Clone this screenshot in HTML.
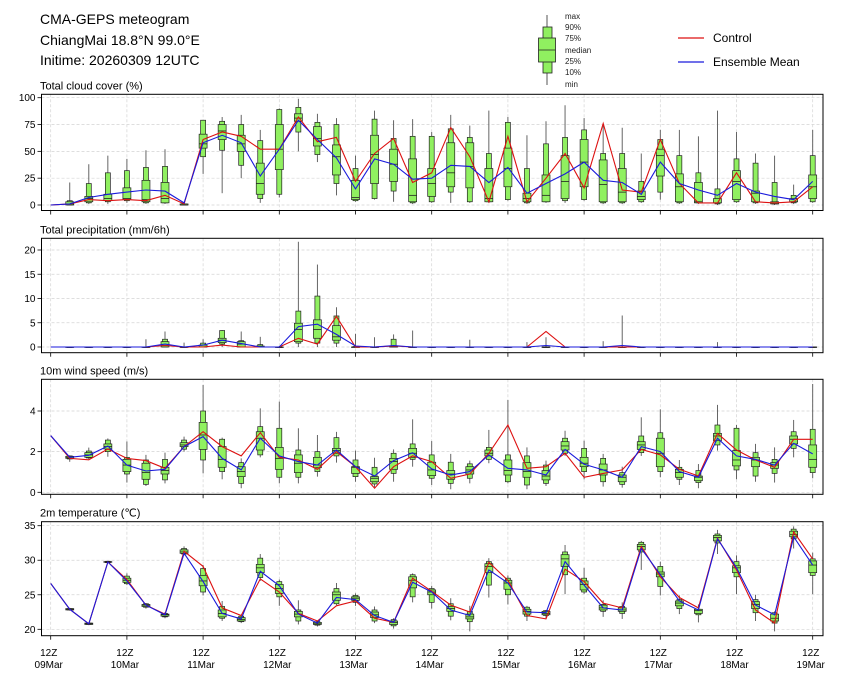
<!DOCTYPE html>
<html><head><meta charset="utf-8"><style>
html,body{margin:0;padding:0;background:#fff;}
svg{display:block;font-family:"Liberation Sans","DejaVu Sans",sans-serif;}
</style></head><body>
<svg id="chart" width="841" height="680" viewBox="0 0 841 680">
<text x="40" y="24" font-size="14">CMA-GEPS meteogram</text>
<text x="40" y="45" font-size="14">ChiangMai 18.8°N 99.0°E</text>
<text x="40" y="65" font-size="14">Initime: 20260309 12UTC</text>
<g>
<line x1="547" y1="15" x2="547" y2="85" stroke="#555" stroke-width="1"/>
<rect x="543" y="27" width="9" height="46" fill="#90f060" stroke="#222" stroke-width="0.8"/>
<rect x="538.5" y="38" width="17" height="24" fill="#90f060" stroke="#222" stroke-width="0.8"/>
<line x1="538.5" y1="50" x2="555.5" y2="50" stroke="#222" stroke-width="0.8"/>
<g font-size="8" fill="#222">
<text x="565" y="19">max</text><text x="565" y="30">90%</text><text x="565" y="41">75%</text>
<text x="565" y="53">median</text><text x="565" y="64">25%</text><text x="565" y="75">10%</text><text x="565" y="87">min</text>
</g></g>
<g>
<line x1="678" y1="38" x2="704" y2="38" stroke="#dd1111" stroke-width="1.2"/>
<text x="713" y="42" font-size="12">Control</text>
<line x1="678" y1="62" x2="704" y2="62" stroke="#1a1adc" stroke-width="1.2"/>
<text x="713" y="66" font-size="12">Ensemble Mean</text>
</g>
</svg>
<script>
const dayLabels=["09Mar","10Mar","11Mar","12Mar","13Mar","14Mar","15Mar","16Mar","17Mar","18Mar","19Mar"];
const cloudTicks=[0,25,50,75,100];
const precipTicks=[0,5,10,15,20];
const windTicks=[0,2,4];
const tempTicks=[20,25,30,35];

const cloudMax=[21,38,46,43,51,52,2,79,82,84,70,90,99,85,81,46,88,79,80,68,84,74,88,82,65,78,93,81,74,72,48,70,70,64,88,68,48,46,19,70];
const cloudP90=[4,20,30,32,35,36,1,79,78,75,60,89,91,77,75,34,80,62,64,64,71,63,48,77,34,57,63,70,48,48,22,61,46,30,15,43,39,21,9,46];
const cloudP75=[3,8,10,16,23,21,1,66,75,65,39,75,85,73,56,23,65,52,43,34,58,58,34,53,11,28,46,61,42,34,13,52,29,21,6,32,13,3,6,28];
const cloudMed=[1,6,6,6,5,6,0,57,69,57,20,52,81,62,45,7,47,38,9,20,30,36,6,34,6,9,22,40,19,12,8,46,17,3,2,22,11,2,3,17];
const cloudP25=[0,3,4,5,3,2,0,53,61,50,10,33,78,55,28,5,20,22,3,8,17,16,3,17,3,3,6,17,3,3,5,27,3,2,2,5,3,1,3,6];
const cloudP10=[0,2,3,4,2,2,0,45,51,37,6,10,68,47,20,4,6,13,2,3,12,3,3,5,2,3,4,5,2,2,3,12,2,2,1,3,2,1,2,3];
const cloudMin=[0,1,1,2,1,1,0,29,11,25,2,7,50,40,9,3,5,3,1,2,2,2,2,4,1,2,2,4,1,1,2,5,1,1,0,2,1,0,1,2];
const cloudCtrl=[0,1,5,4,5,4,9,1,61,68,64,52,52,82,59,63,22,48,62,21,30,72,45,3,64,3,25,48,16,76,14,12,61,20,2,2,30,3,2,3,17];
const cloudMean=[0,1,7,10,12,14,13,2,58,65,58,27,52,79,61,44,15,43,38,24,25,37,36,21,35,11,20,29,40,23,21,10,40,20,14,9,20,12,8,5,22];

const precipMax=[0,0,0,0,1.6,3.2,0.9,1.6,3.5,3.2,2.1,0.2,21.7,17,8.2,2.7,2.0,2.6,3.4,0,0,1.5,0,0,1.0,2.0,0,0,1.2,6.5,0,0,0,0,1.0,0,0,0,0,0];
const precipP90=[0,0,0,0,0,1.6,0,0.8,3.4,1.3,0.5,0,7.4,10.5,6.4,0.1,0,1.6,0,0,0,0,0,0,0,0,0,0,0,0,0,0,0,0,0,0,0,0,0,0];
const precipP75=[0,0,0,0,0,1.1,0,0.4,1.8,1.1,0.2,0,4.9,5.6,4.4,0,0,0.2,0,0,0,0,0,0,0,0,0,0,0,0,0,0,0,0,0,0,0,0,0,0];
const precipMed=[0,0,0,0,0,0.3,0,0,1.4,0.6,0,0,3.6,3.6,2.1,0,0,0,0,0,0,0,0,0,0,0,0,0,0,0,0,0,0,0,0,0,0,0,0,0];
const precipP25=[0,0,0,0,0,0,0,0,0.9,0,0,0,1.1,1.8,1.4,0,0,0,0,0,0,0,0,0,0,0,0,0,0,0,0,0,0,0,0,0,0,0,0,0];
const precipP10=[0,0,0,0,0,0,0,0,0.6,0,0,0,0.8,0.8,0.8,0,0,0,0,0,0,0,0,0,0,0,0,0,0,0,0,0,0,0,0,0,0,0,0,0];
const precipMin=[0,0,0,0,0,0,0,0,0,0,0,0,0,0,0,0,0,0,0,0,0,0,0,0,0,0,0,0,0,0,0,0,0,0,0,0,0,0,0,0];
const precipCtrl=[0,0,0,0,0,0,0.3,0,0,0.4,0,0,0,1.8,0.6,6.3,0,0,0.2,0,0,0,0,0,0,0,3.2,0,0,0,0,0,0,0,0,0,0,0,0,0,0];
const precipMean=[0,0,0,0,0,0,0.6,0,0.4,1.4,0.7,0,0,4.2,4.7,2.6,0.2,0,0.3,0,0,0,0,0,0,0,0.3,0,0,0,0.3,0,0,0,0,0,0,0,0,0,0];

const windMax=[1.82,2.2,2.65,2.5,1.84,1.95,2.74,5.28,2.69,1.67,4.13,4.46,3.15,2.82,2.97,2.05,1.7,2.11,3.59,2.52,1.89,1.56,3.07,4.54,2.21,1.56,3.03,2.54,1.89,1.26,3.69,4.08,1.59,1.39,4.3,3.31,2.38,2.21,3.56,5.33];
const windP90=[1.79,2.03,2.57,1.72,1.59,1.62,2.57,4.0,2.61,1.46,3.23,3.15,2.08,2.0,2.69,1.59,1.23,1.92,2.38,1.84,1.48,1.4,2.21,1.84,1.79,1.34,2.66,2.16,1.67,0.97,2.77,2.93,1.23,1.07,3.31,3.15,1.95,1.62,2.98,3.1];
const windP75=[1.77,1.95,2.38,1.62,1.43,1.23,2.44,3.44,2.25,1.26,2.98,2.21,1.84,1.72,2.16,1.26,0.77,1.67,2.16,1.48,1.07,1.26,2.08,1.59,1.46,1.07,2.49,1.72,1.39,0.85,2.49,2.66,1.13,0.8,2.9,2.05,1.72,1.46,2.77,2.33];
const windMed=[1.72,1.84,2.25,1.34,0.97,1.07,2.33,2.82,1.62,1.02,2.66,1.67,1.43,1.34,2.05,1.23,0.69,1.51,1.92,1.1,0.9,1.1,1.92,1.07,1.02,0.8,2.28,1.43,1.1,0.74,2.33,1.92,0.97,0.74,2.77,1.59,1.59,1.34,2.61,1.62];
const windP25=[1.67,1.72,2.13,1.02,0.64,0.9,2.25,2.11,1.23,0.77,2.08,1.13,0.97,1.21,1.92,0.93,0.52,1.13,1.72,0.82,0.64,0.9,1.79,0.85,0.74,0.61,2.08,1.26,0.85,0.52,2.11,1.26,0.74,0.57,2.54,1.3,1.26,1.18,2.38,1.23];
const windP10=[1.64,1.69,2.0,0.9,0.39,0.61,2.12,1.59,1.02,0.44,1.84,0.74,0.74,1.02,1.79,0.77,0.41,0.93,1.62,0.69,0.44,0.69,1.62,0.52,0.36,0.44,1.92,1.02,0.52,0.39,1.95,1.02,0.64,0.48,2.33,1.1,0.8,0.93,2.16,0.97];
const windMin=[1.5,1.62,1.75,0.48,0.31,0.44,2.0,0.93,0.64,0.2,1.72,0.44,0.44,0.77,1.46,0.52,0.25,0.52,1.26,0.36,0.15,0.44,1.43,0.44,0.15,0.31,1.79,0.64,0.28,0.23,1.79,0.74,0.36,0.2,2.05,0.64,0.52,0.48,1.72,0.69];
const windCtrl=[2.79,1.67,1.6,2.13,1.67,1.56,1.18,2.25,2.98,2.25,1.79,2.93,1.72,1.59,1.13,2.0,1.26,0.2,1.26,1.79,1.51,0.69,0.9,1.92,3.31,1.18,1.26,1.92,0.74,0.93,1.1,2.11,1.84,1.13,0.8,2.9,2.08,1.59,1.23,2.61,2.61];
const windMean=[2.79,1.72,1.82,2.28,1.34,1.05,1.13,2.25,2.74,1.67,1.1,2.66,1.79,1.51,1.34,2.08,1.26,0.8,1.56,1.95,1.15,0.85,1.02,1.84,1.18,1.1,0.85,2.11,1.38,1.1,0.74,2.25,2.0,1.02,0.74,2.66,1.79,1.62,1.34,2.41,1.89];

const tempMax=[23.1,21.0,29.9,28.1,23.8,22.5,32.0,29.3,24.1,22.1,30.9,27.2,24.2,21.2,26.7,25.2,23.3,21.6,28.1,26.3,24.5,23.4,30.3,27.8,23.4,22.8,32.2,28.9,24.2,23.9,32.8,29.8,24.9,23.6,34.4,30.7,25.0,22.6,34.9,31.1];
const tempP90=[23.0,20.9,29.85,27.7,23.7,22.3,31.7,28.8,23.3,21.9,30.3,26.9,22.8,21.1,25.9,24.9,22.8,21.4,27.9,25.9,23.7,22.6,29.8,27.4,23.2,22.7,31.2,27.4,23.6,23.3,32.6,29.1,24.3,22.9,33.8,29.8,24.3,22.4,34.5,30.2];
const tempP75=[23.0,20.9,29.8,27.4,23.6,22.2,31.5,27.8,22.8,21.7,29.4,26.5,22.6,21.0,25.4,24.7,22.5,21.2,27.6,25.7,23.3,22.2,29.5,27.1,22.9,22.6,30.8,27.0,23.5,23.1,32.3,28.3,24.1,22.9,33.6,29.2,24.0,22.2,34.2,29.9];
const tempMed=[22.9,20.8,29.74,27.1,23.5,22.1,31.2,27.0,22.3,21.4,28.9,25.9,22.2,20.8,25.0,24.5,22.1,21.0,27.1,25.4,23.0,21.8,29.1,26.7,22.6,22.3,30.2,26.5,23.1,22.8,32.0,28.0,23.8,22.7,33.3,28.9,23.6,21.6,33.7,29.3];
const tempP25=[22.8,20.7,29.7,26.8,23.3,21.9,31.0,26.3,21.8,21.2,28.2,25.2,21.8,20.7,24.2,24.2,21.7,20.7,26.0,25.0,22.6,21.5,28.2,25.8,22.2,22.1,29.1,25.7,22.8,22.6,31.5,27.6,23.4,22.3,32.8,28.2,23.0,21.2,33.4,28.2];
const tempP10=[22.8,20.7,29.65,26.6,23.2,21.8,30.9,25.4,21.6,21.1,27.5,24.7,21.2,20.6,23.7,23.9,21.2,20.5,24.7,23.9,21.9,21.1,26.4,25.0,21.9,22.0,27.9,25.4,22.6,22.3,31.2,26.2,23.0,22.1,32.5,27.6,22.4,20.9,33.1,27.8];
const tempMin=[22.7,20.6,29.6,26.4,23.0,21.6,30.7,24.9,21.2,20.9,27.0,23.4,20.7,20.4,23.5,23.4,20.9,20.1,23.9,23.0,21.3,19.7,24.6,23.6,21.2,21.6,25.1,25.1,21.8,21.5,28.6,24.9,22.2,21.0,30.9,25.1,21.2,19.7,31.7,25.1];
const tempCtrl=[26.65,22.9,20.8,29.74,27.2,23.5,22.2,31.3,29.1,23.1,22.0,27.3,25.4,22.3,21.2,23.4,24.1,21.6,21.0,27.4,25.5,23.5,22.5,29.7,27.1,22.0,21.5,28.7,26.9,23.8,23.1,32.0,27.6,24.6,23.1,33.2,28.6,22.8,20.9,34.1,30.2];
const tempMean=[26.65,22.9,20.8,29.74,27.0,23.5,22.1,31.0,26.9,22.3,21.5,28.4,26.3,22.2,20.9,24.6,24.3,22.0,21.0,26.8,25.4,22.8,22.0,28.6,26.7,22.5,22.4,29.8,26.4,23.1,22.8,31.7,27.9,24.1,22.8,33.1,28.9,23.5,22.1,33.4,29.3];

const NS="http://www.w3.org/2000/svg";
const svg=document.getElementById('chart');
const X0=50.7, STEP=19.05, LEFT=41.5, RIGHT=823;
function xAt(i){return X0+STEP*i;}
function mk(tag,attrs,parent){const e=document.createElementNS(NS,tag);for(const k in attrs)e.setAttribute(k,attrs[k]);(parent||svg).appendChild(e);return e;}

function panel(key,title,top,bottom,v0,y0,v1,y1,ticks,mn,p10,p25,med,p75,p90,mx,ctrl,mean){
  const g=mk('g',{});
  
  
  const yAt=v=>y0+(v-v0)*(y1-y0)/(v1-v0);
  const t=mk('text',{x:40,y:top-5,'font-size':11},g);t.textContent=title;
  
  
  for(let d=0;d<=10;d++){const x=xAt(d*4);
    const gl=mk('line',{x1:x,x2:x,y1:top,y2:bottom,stroke:'#d4d4d4','stroke-width':0.7,'stroke-dasharray':'3,2'},g);
    
    
    const tk=mk('line',{x1:x,x2:x,y1:bottom,y2:bottom+4,stroke:'#000','stroke-width':0.8},g);
    
    
  }
  ticks.forEach(v=>{const y=yAt(v);
    const gl=mk('line',{x1:LEFT,x2:RIGHT,y1:y,y2:y,stroke:'#d4d4d4','stroke-width':0.7,'stroke-dasharray':'3,2'},g);
    
    
    mk('line',{x1:LEFT-4,x2:LEFT,y1:y,y2:y,stroke:'#000','stroke-width':0.8},g);
    const tl=mk('text',{x:LEFT-6,y:y+3.5,'font-size':10,'text-anchor':'end'},g);tl.textContent=v;
    
    
  });
  for(let i=0;i<mx.length;i++){const x=xAt(i+1);
    const bg=mk('g',{},g);
    
    
    mk('line',{x1:x,x2:x,y1:yAt(mx[i]),y2:yAt(mn[i]),stroke:'#555','stroke-width':0.9},bg);
    const a=yAt(p90[i]),b=yAt(p10[i]);
    mk('rect',{x:x-2.5,y:a,width:5,height:Math.max(b-a,0.5),fill:'#90f060',stroke:'#222','stroke-width':0.7},bg);
    const c=yAt(p75[i]),d=yAt(p25[i]);
    mk('rect',{x:x-4,y:c,width:8,height:Math.max(d-c,0.5),fill:'#90f060',stroke:'#222','stroke-width':0.7},bg);
    const m=yAt(med[i]);
    mk('line',{x1:x-4,x2:x+4,y1:m,y2:m,stroke:'#222','stroke-width':0.8},bg);
  }
  const pts=arr=>arr.map((v,i)=>xAt(i).toFixed(1)+','+yAt(v).toFixed(1)).join(' ');
  const pc=mk('polyline',{points:pts(ctrl),fill:'none',stroke:'#dd1111','stroke-width':1.1},g);
  
  
  const pm=mk('polyline',{points:pts(mean),fill:'none',stroke:'#1a1adc','stroke-width':1.1},g);
  
  
  const fr=mk('rect',{x:LEFT,y:top,width:RIGHT-LEFT,height:bottom-top,fill:'none',stroke:'#000','stroke-width':1},g);
  
  
}
panel('cloud','Total cloud cover (%)',94.3,210.5,0,205,100,97.7,cloudTicks,cloudMin,cloudP10,cloudP25,cloudMed,cloudP75,cloudP90,cloudMax,cloudCtrl,cloudMean);
panel('precip','Total precipitation (mm/6h)',238.3,352.7,0,347,20,250,precipTicks,precipMin,precipP10,precipP25,precipMed,precipP75,precipP90,precipMax,precipCtrl,precipMean);
panel('wind','10m wind speed (m/s)',379.3,494.3,0,492.3,4,411,windTicks,windMin,windP10,windP25,windMed,windP75,windP90,windMax,windCtrl,windMean);
panel('temp','2m temperature (\u2103)',521.7,635.7,20,629.3,35,525.7,tempTicks,tempMin,tempP10,tempP25,tempMed,tempP75,tempP90,tempMax,tempCtrl,tempMean);
dayLabels.forEach((lab,d)=>{const x=xAt(d*4);
  const t1=mk('text',{x:x-2,y:656,'font-size':10,'text-anchor':'middle'});t1.textContent='12Z';
  
  
  const t2=mk('text',{x:x-2,y:668,'font-size':10,'text-anchor':'middle'});t2.textContent=lab;
  
  
});
</script>
</body></html>
